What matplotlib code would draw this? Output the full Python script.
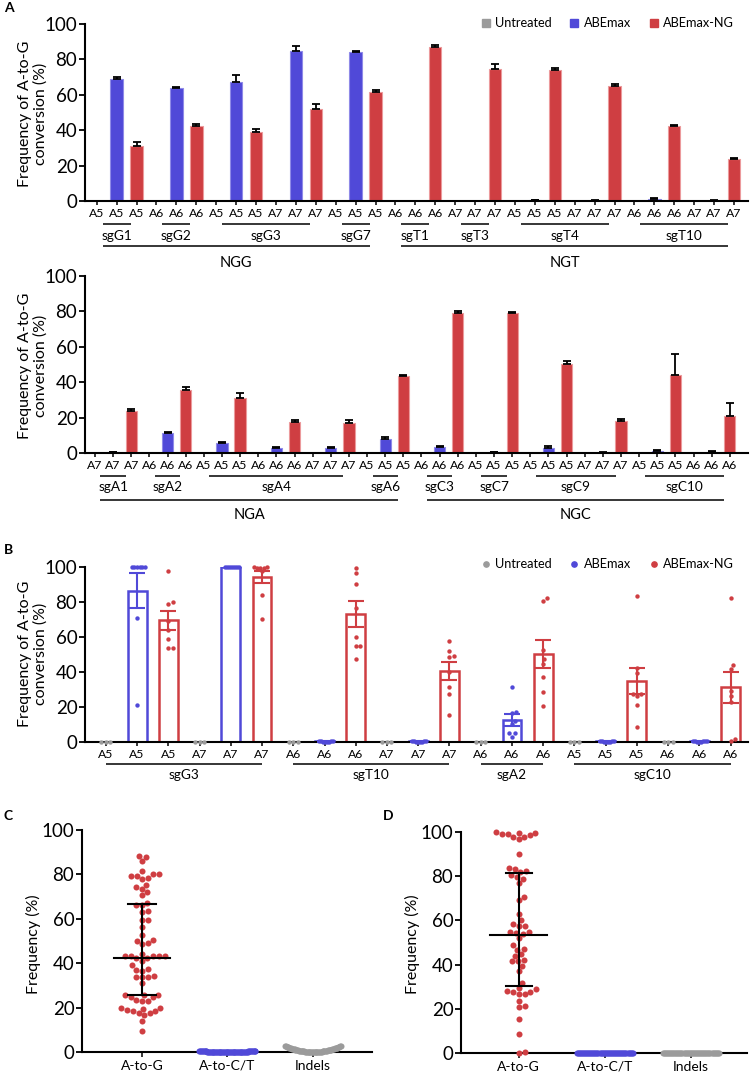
import numpy as np
import matplotlib
matplotlib.use('Agg')
import matplotlib.pyplot as plt
from matplotlib.lines import Line2D

plt.rcParams['font.family'] = ['Lato', 'DejaVu Sans']

GRAY = '#9b9b9b'
BLUE = '#5049d8'
RED = '#cf3e42'
BLUE_EDGE = '#8f8ae8'
RED_EDGE = '#ec9a9c'
GRAY_EDGE = '#c4c4c4'

# ---------------- Panel A, row 1 ----------------
a1_sites = ['A5', 'A6', 'A5', 'A7', 'A5', 'A6', 'A7', 'A5', 'A7', 'A6', 'A7']
a1_guides = ['sgG1', 'sgG2', 'sgG3', 'sgG3', 'sgG7', 'sgT1', 'sgT3', 'sgT4', 'sgT4', 'sgT10', 'sgT10']
a1_pams = ['NGG', 'NGG', 'NGG', 'NGG', 'NGG', 'NGT', 'NGT', 'NGT', 'NGT', 'NGT', 'NGT']
a1_untreated = [0, 0, 0, 0, 0, 0, 0, 0, 0, 0, 0]
a1_abemax = [68.9, 63.8, 67.4, 84.6, 84.0, 0.1, 0.0, 0.3, 0.2, 1.1, 0.2]
a1_abemax_err = [1.1, 0.6, 4.0, 3.2, 0.7, 0.1, 0.0, 0.3, 0.3, 0.8, 0.3]
a1_ng = [30.9, 42.6, 38.8, 52.2, 61.8, 87.2, 74.6, 74.2, 65.2, 42.6, 23.9]
a1_ng_err = [2.2, 0.7, 1.7, 2.4, 1.1, 1.1, 2.6, 0.9, 1.1, 0.5, 0.6]

# ---------------- Panel A, row 2 ----------------
a2_sites = ['A7', 'A6', 'A5', 'A6', 'A7', 'A5', 'A6', 'A5', 'A5', 'A7', 'A5', 'A6']
a2_guides = ['sgA1', 'sgA2', 'sgA4', 'sgA4', 'sgA4', 'sgA6', 'sgC3', 'sgC7', 'sgC9', 'sgC9', 'sgC10', 'sgC10']
a2_pams = ['NGA', 'NGA', 'NGA', 'NGA', 'NGA', 'NGA', 'NGC', 'NGC', 'NGC', 'NGC', 'NGC', 'NGC']
a2_untreated = [0, 0, 0, 0, 0, 0, 0, 0, 0, 0, 0, 0]
a2_abemax = [0.3, 11.3, 5.6, 2.9, 2.8, 7.9, 3.4, 0.3, 2.8, 0.2, 0.9, 0.6]
a2_abemax_err = [0.3, 0.7, 0.5, 0.5, 0.4, 1.3, 0.5, 0.2, 1.0, 0.2, 0.6, 0.5]
a2_ng = [23.5, 35.7, 31.0, 17.5, 16.7, 43.6, 79.3, 78.9, 50.2, 18.2, 43.8, 20.7]
a2_ng_err = [1.1, 1.7, 3.0, 1.1, 1.9, 0.4, 1.2, 1.0, 1.5, 1.2, 12.4, 7.3]

# ---------------- Panel B ----------------
b_sites = ['A5', 'A7', 'A6', 'A7', 'A6', 'A5', 'A6']
b_guides = ['sgG3', 'sgG3', 'sgT10', 'sgT10', 'sgA2', 'sgC10', 'sgC10']
b_abemax_mean = [86.3, 100.0, 0.3, 0.3, 12.5, 0.3, 0.3]
b_abemax_sem = [10.0, 0.0, 0.1, 0.1, 3.6, 0.1, 0.1]
b_ng_mean = [69.5, 94.0, 72.9, 40.5, 50.0, 34.8, 31.2]
b_ng_sem = [5.5, 3.4, 7.4, 4.9, 8.0, 7.6, 9.0]
b_untreated_pts = [[0, 0, 0], [0, 0, 0], [0, 0, 0], [0, 0, 0], [0, 0, 0], [0, 0, 0], [0, 0, 0]]
b_abemax_pts = [
    [100, 100, 100, 100, 100, 100, 70.5, 21.0],
    [100, 100, 100, 100, 100, 100, 100, 100],
    [0.2, 0.1, 0.5, 0.3, 0.2, 0.4, 0.3, 0.1],
    [0.3, 0.2, 0.1, 0.4, 0.2, 0.3, 0.5, 0.2],
    [31.6, 17.0, 16.3, 12.0, 10.0, 5.0, 3.0, 5.0],
    [0.2, 0.3, 0.1, 0.4, 0.2, 0.5, 0.3, 0.2],
    [0.3, 0.2, 0.4, 0.1, 0.3, 0.2, 0.5, 0.3],
]
b_ng_pts = [
    [97.7, 79.0, 79.6, 69.0, 63.8, 58.5, 53.4, 53.4],
    [99.6, 99.5, 99.3, 99.8, 99.4, 97.4, 84.0, 70.4],
    [99.5, 96.5, 90.3, 76.5, 60.0, 54.8, 54.5, 47.2],
    [57.4, 51.9, 48.7, 48.9, 40.0, 31.4, 27.3, 15.3],
    [82.0, 80.3, 52.5, 47.2, 44.7, 36.9, 28.4, 20.5],
    [83.5, 42.2, 39.4, 27.5, 27.5, 26.5, 21.0, 8.5],
    [82.2, 43.8, 41.5, 29.2, 26.3, 23.1, 1.5, 0.5],
]

# ---------------- Panels C and D ----------------
cd_categories = ['A-to-G', 'A-to-C/T', 'Indels']
c_atog = [88.0, 88.5, 86.2, 80.2, 79.5, 81.4, 78.6, 78.0, 79.3, 80.0, 74.2, 75.2, 73.3,
          72.0, 70.6, 66.0, 67.0, 66.0, 63.2, 63.5, 59.5, 59.6, 56.2, 52.7, 50.5, 50.0,
          49.0, 48.5, 44.3, 43.3, 43.3, 42.2, 42.2, 41.2, 43.3, 43.3, 43.3, 39.0, 37.5,
          37.0, 36.5, 33.8, 33.8, 34.2, 33.8, 30.9, 25.7, 24.8, 25.8, 24.8, 25.7, 23.1,
          23.1, 23.5, 19.8, 19.2, 18.3, 17.5, 16.5, 17.4, 18.3, 19.9, 19.0, 14.0, 9.6]
c_atoct = [0.1, 0.2, 0.1, 0.3, 0.2, 0.1, 0.4, 0.2, 0.1, 0.3, 0.2, 0.1, 0.2, 0.3, 0.1, 0.2,
           0.4, 0.1, 0.2, 0.3, 0.1, 0.2, 0.1, 0.3, 0.2, 0.1, 0.2, 0.4, 0.1, 0.2, 0.3, 0.1,
           0.2, 0.1, 0.3, 0.2, 0.1, 0.2, 0.3, 0.1, 0.2, 0.4, 0.1, 0.2, 0.3, 0.1, 0.2, 0.1,
           0.3, 0.2, 0.1, 0.2, 0.4, 0.1, 0.2, 0.3, 0.1, 0.2, 0.1, 0.3, 0.2, 0.1, 0.2, 0.3, 0.1]
c_indels = [0.00, 0.00, 0.01, 0.01, 0.01, 0.02, 0.03, 0.04, 0.04, 0.05, 0.06, 0.08, 0.09,
            0.10, 0.12, 0.14, 0.16, 0.18, 0.20, 0.22, 0.25, 0.27, 0.30, 0.33, 0.36, 0.39,
            0.42, 0.46, 0.49, 0.53, 0.57, 0.61, 0.65, 0.70, 0.74, 0.79, 0.84, 0.88, 0.93,
            0.99, 1.04, 1.09, 1.15, 1.21, 1.27, 1.33, 1.39, 1.45, 1.52, 1.58, 1.65, 1.72,
            1.79, 1.86, 1.94, 2.01, 2.09, 2.17, 2.25, 2.33, 2.42, 2.50, 2.59, 2.68, 2.75]
c_center = [42.5, 0.2, 1.0]
c_lower = [25.7, 0.2, 1.0]
c_upper = [66.5, 0.2, 1.0]

d_atog = [99.4, 99.1, 97.6, 96.7, 99.8, 97.6, 98.5, 99.0, 99.7, 90.2, 82.2, 83.3, 83.7,
          81.9, 80.4, 79.6, 78.9, 76.9, 70.6, 69.1, 62.9, 60.0, 58.4, 57.5, 57.5, 54.8,
          54.3, 53.7, 54.8, 51.9, 48.7, 47.2, 46.8, 44.8, 43.9, 41.6, 41.5, 42.2, 39.4,
          37.1, 31.7, 29.6, 28.1, 27.6, 26.5, 26.5, 27.6, 28.8, 23.5, 21.3, 20.8, 15.5,
          8.7, 0.2, 0.5]
d_atoct = [0.1, 0.0, 0.1, 0.2, 0.0, 0.1, 0.1, 0.0, 0.2, 0.1, 0.0, 0.1, 0.1, 0.2, 0.0, 0.1,
           0.0, 0.1, 0.2, 0.1, 0.0, 0.1, 0.1, 0.0, 0.2, 0.1, 0.0, 0.1, 0.2, 0.0, 0.1, 0.1,
           0.0, 0.1, 0.2, 0.1, 0.0, 0.1, 0.1, 0.0, 0.2, 0.1, 0.0, 0.1, 0.1, 0.2, 0.0, 0.1,
           0.0, 0.1, 0.2, 0.1, 0.0, 0.1, 0.1]
d_indels = [0.0, 0.1, 0.0, 0.1, 0.0, 0.0, 0.1, 0.0, 0.1, 0.0, 0.0, 0.1, 0.0, 0.1, 0.0, 0.0,
            0.1, 0.0, 0.1, 0.0, 0.0, 0.1, 0.0, 0.1, 0.0, 0.0, 0.1, 0.0, 0.1, 0.0, 0.0, 0.1,
            0.0, 0.1, 0.0, 0.0, 0.1, 0.0, 0.1, 0.0, 0.0, 0.1, 0.0, 0.1, 0.0, 0.0, 0.1, 0.0,
            0.1, 0.0, 0.0, 0.1, 0.0, 0.1, 0.0]
d_center = [53.5, 0.1, 0.05]
d_lower = [30.3, 0.1, 0.05]
d_upper = [81.5, 0.1, 0.05]

legend_labels = ['Untreated', 'ABEmax', 'ABEmax-NG']

# ====================================================================
W, H = 750, 1074
fig = plt.figure(figsize=(W / 100, H / 100), dpi=100)

YT = 13.5      # y tick label size
XT = 8.8       # site tick label size
SG = 9.8       # guide label size
PAM = 10.5     # PAM label size
YL = 11.5      # y-axis title size
LEG = 9.2      # legend size


def add_ax(l, t, r, b):
    return fig.add_axes([l / W, 1 - b / H, (r - l) / W, (b - t) / H])


def style(ax, xt_len=3.0, xt_size=XT, yt_size=YT):
    for s in ['top', 'right']:
        ax.spines[s].set_visible(False)
    for s in ['left', 'bottom']:
        ax.spines[s].set_linewidth(1.5)
    ax.set_ylim(0, 100)
    ax.set_yticks([0, 20, 40, 60, 80, 100])
    ax.tick_params(axis='y', length=4.5, width=1.3, labelsize=yt_size, pad=1.0)
    ax.tick_params(axis='x', length=xt_len, width=1.1, labelsize=xt_size, pad=2)


def runs(seq):
    out = []
    start = 0
    for i in range(1, len(seq) + 1):
        if i == len(seq) or seq[i] != seq[start]:
            out.append((seq[start], start, i - 1))
            start = i
    return out


def px_per_unit(ax):
    pos = ax.get_position()
    x0, x1 = ax.get_xlim()
    y0, y1 = ax.get_ylim()
    return pos.width * W / (x1 - x0), pos.height * H / (y1 - y0)


def swarm(values, ax, diam, max_half):
    xpu, ypu = px_per_unit(ax)
    vals = np.asarray(values, dtype=float)
    order = np.argsort(vals, kind='stable')
    placed = []
    offs = np.zeros(len(vals))
    for i in order:
        y = vals[i] * ypu
        cands = [0.0]
        for (px, py) in placed:
            dy = abs(py - y)
            if dy < diam:
                dx = np.sqrt(diam ** 2 - dy ** 2)
                cands += [px + dx, px - dx]
        cands.sort(key=abs)
        xsel = cands[-1]
        for c in cands:
            if all((c - px) ** 2 + (y - py) ** 2 >= diam ** 2 - 1e-6 for px, py in placed):
                xsel = c
                break
        placed.append((xsel, y))
        offs[i] = xsel
    m = np.max(np.abs(offs)) if len(offs) else 0
    if m > max_half:
        offs *= max_half / m
    return offs / xpu


def grouped_bar_row(ax, sites, guides, pams, untreated, abemax, abemax_err, ng, ng_err,
                    xlim, yl_sg, yt_sg, yl_pam, yt_pam):
    n = len(sites)
    pos = np.arange(3 * n)
    xu, xa, xn = pos[0::3], pos[1::3], pos[2::3]
    w = 0.62
    ax.bar(xu, untreated, w, color=GRAY, edgecolor=GRAY_EDGE, linewidth=0.8, zorder=2)
    ax.bar(xa, abemax, w, color=BLUE, edgecolor=BLUE_EDGE, linewidth=0.8, zorder=2)
    ax.bar(xn, ng, w, color=RED, edgecolor=RED_EDGE, linewidth=0.8, zorder=2)
    z = np.zeros(n)
    ax.errorbar(xa, abemax, yerr=[z, abemax_err], fmt='none', ecolor='black',
                elinewidth=1.3, capsize=3.2, capthick=1.3, zorder=3)
    ax.errorbar(xn, ng, yerr=[z, ng_err], fmt='none', ecolor='black',
                elinewidth=1.3, capsize=3.2, capthick=1.3, zorder=3)
    style(ax)
    ax.set_xlim(*xlim)
    ax.set_xticks(pos)
    ax.set_xticklabels([s for s in sites for _ in range(3)])
    tr = ax.get_xaxis_transform()
    for name, s, e in runs(guides):
        x0, x1 = 3 * s + 0.3, 3 * e + 2 - 0.3
        ax.plot([x0, x1], [yl_sg, yl_sg], transform=tr, color='black', lw=1.1,
                clip_on=False, solid_capstyle='butt')
        ax.text((x0 + x1) / 2, yt_sg, name, transform=tr, ha='center', va='center',
                fontsize=SG)
    for name, s, e in runs(pams):
        x0, x1 = 3 * s + 0.3, 3 * e + 2 - 0.3
        ax.plot([x0, x1], [yl_pam, yl_pam], transform=tr, color='black', lw=1.1,
                clip_on=False, solid_capstyle='butt')
        ax.text((x0 + x1) / 2, yt_pam, name, transform=tr, ha='center', va='center',
                fontsize=PAM)


# ---- Panel A ----
axA1 = add_ax(85, 24, 748, 201)
grouped_bar_row(axA1, a1_sites, a1_guides, a1_pams, a1_untreated, a1_abemax, a1_abemax_err,
                a1_ng, a1_ng_err, (-0.59, 32.7), -0.130, -0.196, -0.254, -0.352)
axA2 = add_ax(85, 276, 748, 453)
grouped_bar_row(axA2, a2_sites, a2_guides, a2_pams, a2_untreated, a2_abemax, a2_abemax_err,
                a2_ng, a2_ng_err, (-0.55, 36.0), -0.130, -0.194, -0.266, -0.352)

ylab = 'Frequency of A-to-G\nconversion (%)'
for yc in (114, 366, 654):
    fig.text(33 / W, 1 - yc / H, ylab, rotation=90, ha='center', va='center', fontsize=YL,
             multialignment='center', linespacing=1.1)

sq_handles = [Line2D([], [], marker='s', ls='none', color=c, markersize=6.2)
              for c in (GRAY, BLUE, RED)]
fig.legend(sq_handles, legend_labels, loc='center right', bbox_to_anchor=(734 / W, 1 - 23 / H),
           ncol=3, frameon=False, fontsize=LEG, handlelength=0.8, handletextpad=0.35,
           columnspacing=1.35, borderpad=0, borderaxespad=0)

# ---- Panel B ----
axB = add_ax(85, 566.7, 748, 742)
style(axB)
axB.set_xlim(-0.67, 20.56)
nb = len(b_sites)
posB = np.arange(3 * nb)
wb = 0.6
axB.bar(posB[1::3], b_abemax_mean, wb, facecolor='white', edgecolor=BLUE, linewidth=1.8, zorder=2)
axB.bar(posB[2::3], b_ng_mean, wb, facecolor='white', edgecolor=RED, linewidth=1.8, zorder=2)
for j in range(nb):
    for k, (pts, col) in enumerate([(b_untreated_pts[j], GRAY), (b_abemax_pts[j], BLUE),
                                    (b_ng_pts[j], RED)]):
        x = posB[3 * j + k]
        offs = swarm(pts, axB, 4.5, 8.0)
        axB.scatter(x + offs, pts, s=10, color=col, linewidths=0, zorder=3, clip_on=False)
axB.errorbar(posB[1::3], b_abemax_mean, yerr=b_abemax_sem, fmt='none', ecolor=BLUE,
             elinewidth=1.5, capsize=5.5, capthick=1.5, zorder=4)
axB.errorbar(posB[2::3], b_ng_mean, yerr=b_ng_sem, fmt='none', ecolor=RED,
             elinewidth=1.5, capsize=5.5, capthick=1.5, zorder=4)
axB.set_xticks(posB)
axB.set_xticklabels([s for s in b_sites for _ in range(3)])
trB = axB.get_xaxis_transform()
for name, s, e in runs(b_guides):
    x0, x1 = 3 * s, 3 * e + 2
    axB.plot([x0, x1], [-0.1255, -0.1255], transform=trB, color='black', lw=1.1,
             clip_on=False, solid_capstyle='butt')
    axB.text((x0 + x1) / 2, -0.19, name, transform=trB, ha='center', va='center', fontsize=SG)
dot_handles = [Line2D([], [], marker='o', ls='none', color=c, markersize=3.8)
               for c in (GRAY, BLUE, RED)]
fig.legend(dot_handles, legend_labels, loc='center right', bbox_to_anchor=(734 / W, 1 - 564 / H),
           ncol=3, frameon=False, fontsize=LEG, handlelength=0.8, handletextpad=0.35,
           columnspacing=1.35, borderpad=0, borderaxespad=0)


# ---- Panels C and D ----
def scatter_panel(ax, xlim, series, center, lower, upper, mean_half, cap_half):
    style(ax, xt_len=3.5, xt_size=10)
    ax.set_xlim(*xlim)
    cols = [RED, BLUE, GRAY]
    diams = [6.0, 8.0, 8.0]
    for i, (vals, col, dm) in enumerate(zip(series, cols, diams)):
        offs = swarm(vals, ax, dm, 28.0)
        ax.scatter(i + offs, vals, s=19, color=col, linewidths=0, zorder=3, clip_on=False)
    x = 0
    ax.plot([x - mean_half, x + mean_half], [center[0], center[0]], color='black', lw=1.5, zorder=4)
    ax.plot([x - cap_half, x + cap_half], [lower[0], lower[0]], color='black', lw=1.5, zorder=4)
    ax.plot([x - cap_half, x + cap_half], [upper[0], upper[0]], color='black', lw=1.5, zorder=4)
    ax.plot([x, x], [lower[0], upper[0]], color='black', lw=1.5, zorder=4)
    ax.set_xticks(range(len(cd_categories)))
    ax.set_xticklabels(cd_categories)


axC = add_ax(82, 830, 372, 1052)
scatter_panel(axC, (-0.70, 2.69), [c_atog, c_atoct, c_indels], c_center, c_lower, c_upper, 0.33, 0.165)
fig.text(33 / W, 1 - 944 / H, 'Frequency (%)', rotation=90, ha='center', va='center', fontsize=YL)

axD = add_ax(461, 832, 746.7, 1053)
scatter_panel(axD, (-0.67, 2.65), [d_atog, d_atoct, d_indels], d_center, d_lower, d_upper, 0.33, 0.15)
fig.text(412 / W, 1 - 944 / H, 'Frequency (%)', rotation=90, ha='center', va='center', fontsize=YL)

# panel letters
for lbl, xp, yp in [('A', 4, 8), ('B', 4, 550), ('C', 4, 816), ('D', 383, 816)]:
    fig.text(xp / W, 1 - yp / H, lbl, fontsize=10, fontweight='bold', ha='left', va='center')

fig.savefig('out.png', dpi=100)
